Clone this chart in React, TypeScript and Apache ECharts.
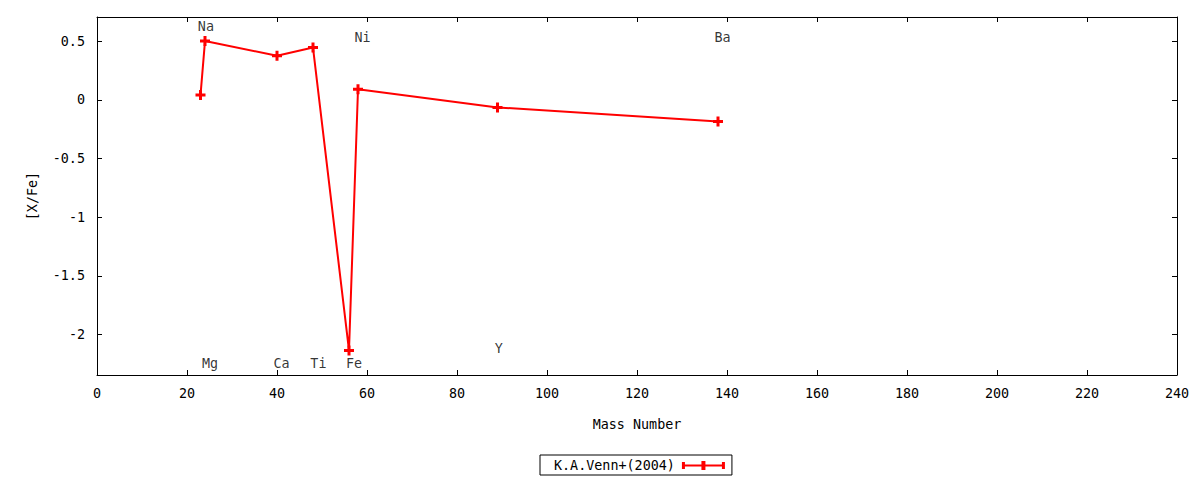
import * as echarts from "echarts";
import { useEffect, useRef } from "react";

// mass number and [X/Fe] of each measured element
const massNumbers = [23, 24, 40, 48, 56, 58, 89, 138];
const abundances = [0.04, 0.5, 0.375, 0.445, -2.135, 0.09, -0.065, -0.185];

// element labels and where they sit (data coordinates)
const labelNames = ["Na", "Mg", "Ca", "Ti", "Fe", "Ni", "Y", "Ba"];
const labelX = [24.2, 25.1, 41.0, 49.2, 57.1, 59.0, 89.3, 139.0];
const labelY = [0.62, -2.25, -2.25, -2.25, -2.25, 0.53, -2.12, 0.53];

const yTicks = [-2, -1.5, -1, -0.5, 0, 0.5];
const seriesName = "K.A.Venn+(2004)";

const FONT = "DejaVu Sans Mono";
const RED = "#ff0000";
const PLUS = "path://M3.5,0H6.5V3.5H10V6.5H6.5V10H3.5V6.5H0V3.5H3.5Z";
const LEGEND_ICON =
  "path://M0,1H3V3.5H19.5V0H23.5V3.5H40V1H43V8H40V5.5H23.5V9H19.5V5.5H3V8H0Z";

function AbundanceChart(): React.ReactElement {
  const ref = useRef<HTMLDivElement | null>(null);

  useEffect(() => {
    const el = ref.current;
    if (el === null) return;
    const chart = echarts.init(el, null, { renderer: "svg" });

    const lineStyle = { color: "#000", width: 1 };
    const text = { fontFamily: FONT, fontSize: 13.4, color: "#000" };
    const frameLine = { show: true, onZero: false, lineStyle };
    const tick = { show: true, inside: true, length: 5, lineStyle };

    chart.setOption({
      animation: false,
      textStyle: { fontFamily: FONT },
      grid: { left: 97, top: 17, right: 23, bottom: 105 },
      legend: {
        data: [{ name: seriesName, icon: LEGEND_ICON }],
        left: 540,
        top: 455,
        align: "right",
        itemWidth: 43,
        itemHeight: 9,
        padding: [4, 7, 3, 14],
        borderColor: "#000",
        borderWidth: 1,
        borderRadius: 0,
        textStyle: { ...text, padding: [0, 2, 0, 0] },
        itemStyle: { color: RED },
        selectedMode: false,
      },
      xAxis: [
        {
          type: "value",
          min: 0,
          max: 240,
          interval: 20,
          position: "bottom",
          name: "Mass Number",
          nameLocation: "middle",
          nameGap: 43,
          nameTextStyle: text,
          axisLine: frameLine,
          axisTick: tick,
          axisLabel: { ...text, margin: 12 },
          splitLine: { show: false },
        },
        {
          type: "value",
          min: 0,
          max: 240,
          interval: 20,
          position: "top",
          axisLine: frameLine,
          axisTick: tick,
          axisLabel: { show: false },
          splitLine: { show: false },
        },
      ],
      yAxis: [
        {
          type: "value",
          min: -2.344,
          max: 0.705,
          position: "left",
          name: "[X/Fe]",
          nameLocation: "middle",
          nameGap: 58,
          nameTextStyle: text,
          axisLine: frameLine,
          axisTick: { ...tick, customValues: yTicks },
          axisLabel: { ...text, margin: 12, customValues: yTicks },
          splitLine: { show: false },
        },
        {
          type: "value",
          min: -2.344,
          max: 0.705,
          position: "right",
          axisLine: frameLine,
          axisTick: { ...tick, customValues: yTicks },
          axisLabel: { show: false, customValues: yTicks },
          splitLine: { show: false },
        },
      ],
      series: [
        {
          name: seriesName,
          type: "line",
          xAxisIndex: 0,
          yAxisIndex: 0,
          data: massNumbers.map((m, i) => [m, abundances[i]]),
          symbol: PLUS,
          symbolSize: 10,
          showAllSymbol: true,
          lineStyle: { color: RED, width: 2 },
          itemStyle: { color: RED },
          z: 3,
        },
        {
          name: "labels",
          type: "scatter",
          xAxisIndex: 0,
          yAxisIndex: 0,
          symbolSize: 0,
          silent: true,
          itemStyle: { color: "#fff" },
          data: labelNames.map((n, i) => ({ name: n, value: [labelX[i], labelY[i]] })),
          label: {
            show: true,
            position: "inside",
            formatter: (p: { name: string }) => p.name,
            ...text,
            textBorderWidth: 0,
          },
          z: 4,
        },
      ],
    });

    return () => chart.dispose();
  }, []);

  return (
    <div
      ref={ref}
      style={{ position: "absolute", left: 0, top: 0, width: 1200, height: 480, background: "#fff" }}
    />
  );
}

export default function App(): React.ReactElement {
  return <AbundanceChart />;
}
